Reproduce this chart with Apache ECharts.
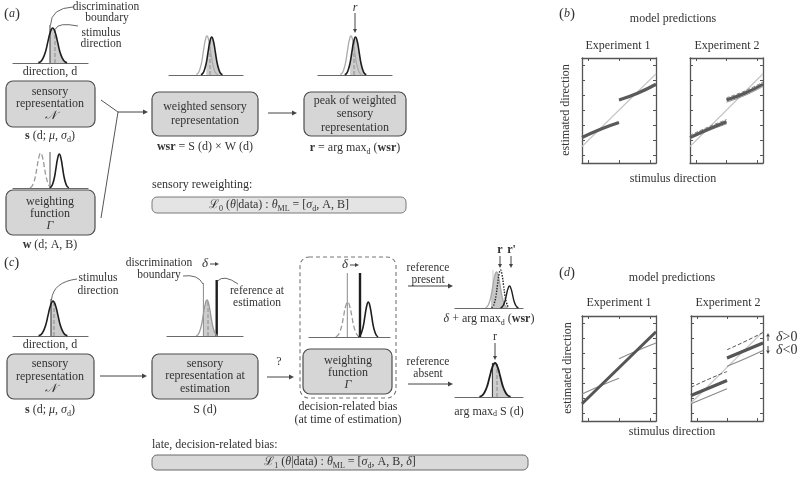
<!DOCTYPE html>
<html><head><meta charset="utf-8">
<script src="https://cdn.jsdelivr.net/npm/echarts@6/dist/echarts.min.js"></script>
<style>html,body{margin:0;padding:0;background:#fff}#c{width:798px;height:481px}</style>
</head><body><div id="c"></div>
<script>
const FONT = 'Liberation Serif';
const TXT = '#333333';

// ---------------- data ----------------
// Gaussian-like profile of the schematic tuning curves (normalised)
const PROFILE_X = [-3, -2.5, -2, -1.5, -1, -0.5, 0, 0.5, 1, 1.5, 2, 2.5, 3];
const PROFILE_Y = [0.01, 0.04, 0.14, 0.32, 0.61, 0.88, 1, 0.88, 0.61, 0.32, 0.14, 0.04, 0.01];

// schematic curves: [centre, spread, height] within their mini panel
const A_SENSORY = [39.7, 4.8, 35];
const A_WEIGHT_NEG = [27.7, 3.6, 35];
const A_WEIGHT_POS = [46.3, 3.2, 34];
const A_WSR_SENS = [38, 3.6, 39];
const A_WSR = [42.7, 3.6, 38];
const A_PEAK_SENS = [33, 3.6, 39];
const A_PEAK = [37.5, 3.6, 38];
const C_SENSORY = [40, 4.8, 35];
const C_ESTIM = [40, 3.6, 36];
const C_WEIGHT_NEG = [38.7, 4, 35];
const C_WEIGHT_POS = [59.3, 3.3, 35];
const C_PRESENT_S = [41.5, 3.7, 36];
const C_PRESENT_W = [45.5, 3, 38];
const C_PRESENT_R = [54.5, 3, 22];
const C_ABSENT = [40, 5.2, 34];

// model prediction panels
const X_TICKS = [-50, 0, 50];
const Y_TICKS = [-60, -40, -20, 0, 20, 40, 60];
const STIM_FULL = [-60, 60];
const STIM_LEFT = [-60, -30, 0];
const STIM_RIGHT = [0, 30, 60];
const B1_VERIDICAL = [-48, 49];
const B1_LEFT = [-36, -25, -16];
const B1_RIGHT = [14, 23, 35];
const B2_VERIDICAL = [-48, 49];
const B2_LEFT = [-36, -25, -15];
const B2_RIGHT = [14, 23, 35];
const B2_LEFT_UP = [-33, -22, -12];
const B2_LEFT_DOWN = [-38, -27, -18];
const B2_RIGHT_UP = [17, 26, 38];
const B2_RIGHT_DOWN = [11, 20, 32];
const D1_BIAS = [-47, 49];
const D1_LEFT = [-34, -23, -13];
const D1_RIGHT = [13, 24, 34];
const D2_VERIDICAL = [-46, 49];
const D2_LEFT = [-36, -26, -16];
const D2_RIGHT = [14, 24, 34];
const D2_LEFT_POS = [-25, -14, -4];
const D2_RIGHT_POS = [25, 36, 48];
const D2_LEFT_NEG = [-47, -37, -27];
const D2_RIGHT_NEG = [3, 13, 24];

// ---------------- build ----------------
const option = {animation: false, grid: [], xAxis: [], yAxis: [], series: [], graphic: {elements: []}};
const G = option.graphic.elements;
const zip = (xs, ys) => xs.map((x, i) => [x, ys[i]]);

function profile(c) { return PROFILE_X.map((x, i) => [c[0] + x * c[1], PROFILE_Y[i] * c[2]]); }

function mini(L, W, B, H) {
  const gi = option.grid.length;
  option.grid.push({left: L, top: B - H, width: W, height: H});
  option.xAxis.push({gridIndex: gi, type: 'value', min: 0, max: W,
    axisLine: {show: true, onZero: false, lineStyle: {color: '#6a6a6a', width: 1.2}},
    axisTick: {show: false}, axisLabel: {show: false}, splitLine: {show: false}});
  option.yAxis.push({gridIndex: gi, type: 'value', min: 0, max: H, show: false});
  const xi = option.xAxis.length - 1, yi = option.yAxis.length - 1;
  const base = {type: 'line', xAxisIndex: xi, yAxisIndex: yi, showSymbol: false, symbol: 'none', clip: false, silent: true};
  return {
    curve(c, color, width, type) {
      option.series.push(Object.assign({}, base, {data: profile(c), smooth: true, z: 4,
        lineStyle: {color, width, type: type || 'solid'}}));
    },
    shade(c, from, color) {
      option.series.push(Object.assign({}, base, {data: profile(c).slice(from), smooth: true, z: 1,
        lineStyle: {opacity: 0, width: 0}, areaStyle: {color: color || '#cdcdcd', opacity: 1}}));
    },
    vline(x, h, color, width, type) {
      option.series.push(Object.assign({}, base, {data: [[x, 0], [x, h]], z: 3,
        lineStyle: {color, width, type: type || 'solid'}}));
    }
  };
}

function plot(L, T, W, H, lines) {
  const gi = option.grid.length;
  option.grid.push({left: L, top: T, width: W, height: H});
  const common = {gridIndex: gi, type: 'value', axisLabel: {show: false}, splitLine: {show: false},
    axisLine: {show: true, onZero: false, lineStyle: {color: '#555', width: 1.3}}};
  const xt = {show: true, inside: true, length: 3, lineStyle: {color: '#555'}, customValues: X_TICKS};
  const yt = {show: true, inside: true, length: 3, lineStyle: {color: '#555'}, customValues: Y_TICKS};
  option.xAxis.push(Object.assign({}, common, {min: -60, max: 60, position: 'bottom', axisTick: xt}));
  const xi = option.xAxis.length - 1;
  option.xAxis.push(Object.assign({}, common, {min: -60, max: 60, position: 'top', axisTick: xt}));
  option.yAxis.push(Object.assign({}, common, {min: -70, max: 70, position: 'left', axisTick: yt}));
  const yi = option.yAxis.length - 1;
  option.yAxis.push(Object.assign({}, common, {min: -70, max: 70, position: 'right', axisTick: yt}));
  lines.forEach(l => option.series.push({type: 'line', xAxisIndex: xi, yAxisIndex: yi, data: zip(l.x, l.y),
    smooth: l.x.length > 2, showSymbol: false, symbol: 'none', silent: true, z: l.z || 3,
    lineStyle: {color: l.color, width: l.width, type: l.type || 'solid'}}));
}

// text helpers
const RS = (o) => Object.assign({fontFamily: FONT, fontSize: 12, fill: TXT, lineHeight: 16}, o);
const RICH = {
  n: RS({}), b: RS({fontWeight: 'bold'}), i: RS({fontStyle: 'italic'}),
  i14: {fontFamily: FONT, fontSize: 14, fill: TXT, lineHeight: 16, fontStyle: 'italic'},
  s: {fontFamily: FONT, fontSize: 8, fill: TXT, lineHeight: 10, verticalAlign: 'bottom'}
};
function T(x, y, text, o) {
  o = o || {};
  G.push({type: 'text', x, y, rotation: o.rot || 0, z: 10, style: {text, fontFamily: FONT, fontSize: o.size || 12,
    fontStyle: o.italic ? 'italic' : 'normal', fontWeight: o.bold ? 'bold' : 'normal', fill: TXT,
    align: o.align || 'center', verticalAlign: 'middle', rich: RICH}});
}
function box(x1, y1, x2, y2, o) {
  o = o || {};
  G.push({type: 'rect', z: 0, shape: {x: x1, y: y1, width: x2 - x1, height: y2 - y1, r: o.r == null ? 7 : o.r},
    style: {fill: o.fill || '#d6d6d6', stroke: o.stroke || '#4d4d4d', lineWidth: o.lw || 1.2, lineDash: o.dash || null}});
}
function seg(pts, color, w) {
  G.push({type: 'polyline', z: 5, shape: {points: pts}, style: {stroke: color || '#444', lineWidth: w || 1, fill: null}});
}
function arrow(x1, y1, x2, y2, o) {
  o = o || {};
  const hl = o.hl || 5, hw = o.hw || 2.4, col = o.color || '#444';
  const dx = x2 - x1, dy = y2 - y1, L = Math.hypot(dx, dy), ux = dx / L, uy = dy / L;
  const bx = x2 - ux * hl, by = y2 - uy * hl;
  seg([[x1, y1], [bx, by]], col, o.w || 1);
  G.push({type: 'polygon', z: 5, shape: {points: [[x2, y2], [bx - uy * hw, by + ux * hw], [bx + uy * hw, by - ux * hw]]},
    style: {fill: col, stroke: null}});
}
function leader(x1, y1, cx, cy, x2, y2) {
  G.push({type: 'bezierCurve', z: 5, shape: {x1, y1, x2, y2, cpx1: cx, cpy1: cy},
    style: {stroke: '#555', lineWidth: 0.9, fill: null}});
}
const SM = {size: 11.5};

// ---------------- (a) ----------------
T(4, 14, '({i|a})', {align: 'left', size: 15});
let m = mini(13, 75, 63, 45);
m.shade(A_SENSORY, 5);
m.curve(A_SENSORY, '#1e1e1e', 1.6);
m.vline(37, 38, '#333', 1);
m.vline(42, 35, '#8a8a8a', 1, 'dashed');
leader(50.5, 25, 51, 8, 73, 7);
T(106, 7, 'discrimination', SM); T(107, 18, 'boundary', SM);
leader(55.5, 29, 58, 22, 78, 26);
T(101, 33, 'stimulus', SM); T(101, 44, 'direction', SM);
T(50, 72, 'direction, d');
box(6, 81, 95, 127);
T(50, 92, 'sensory'); T(50, 104, 'representation'); T(50, 116, '𝒩', {italic: true});
T(50, 136, '{b|s} (d; {i|μ}, {i|σ}{s|d})');

m = mini(13, 75, 188, 45);
m.curve(A_WEIGHT_NEG, '#9a9a9a', 1.3, 'dashed');
m.curve(A_WEIGHT_POS, '#1e1e1e', 1.6);
m.vline(37, 36, '#555', 1);
box(6, 190, 95, 235);
T(50, 202, 'weighting'); T(50, 214, 'function'); T(50, 226, 'Γ', {italic: true});
T(50, 245, '{b|w} (d; A, B)');

seg([[101, 100], [118, 112], [101, 218]], '#555', 1);
arrow(118, 112, 148, 112);

m = mini(169, 74, 75, 45);
m.shade(A_WSR, 3);
m.curve(A_WSR_SENS, '#ababab', 1.3);
m.curve(A_WSR, '#1e1e1e', 1.6);
m.vline(41, 36, '#8a8a8a', 1, 'dashed');
box(152, 92, 258, 136);
T(205, 107, 'weighted sensory'); T(205, 121, 'representation');
T(205, 147, '{b|wsr} = S (d) × W (d)');
arrow(268, 113, 297, 113);

m = mini(318, 74, 75, 45);
m.shade(A_PEAK, 3);
m.curve(A_PEAK_SENS, '#ababab', 1.3);
m.curve(A_PEAK, '#1e1e1e', 1.6);
m.vline(36, 36, '#8a8a8a', 1, 'dashed');
T(355, 8, 'r', {italic: true});
arrow(355, 13, 355, 33, {hl: 4, hw: 2});
box(304, 92, 406, 136);
T(355, 101, 'peak of weighted'); T(355, 114, 'sensory'); T(355, 128, 'representation');
T(355, 148, '{b|r} = arg max{s|d} ({b|wsr})');

T(152, 185, 'sensory reweighting:', {align: 'left'});
box(152, 197, 406, 213, {fill: '#e4e4e4', stroke: '#7a7a7a', lw: 1, r: 5});
T(279, 205, 'ℒ{s|0} ({i|θ}|data) : {i|θ}{s|ML} = [{i|σ}{s|d}, A, B]');

// ---------------- (b) ----------------
T(559, 14, '({i|b})', {align: 'left', size: 15});
T(673, 19, 'model predictions');
T(618, 46, 'Experiment 1'); T(727, 46, 'Experiment 2');
T(566, 110, 'estimated direction', {rot: Math.PI / 2});
T(673, 179, 'stimulus direction');
plot(582, 58, 74, 105, [
  {x: STIM_FULL, y: B1_VERIDICAL, color: '#c4c4c4', width: 1.1, z: 2},
  {x: STIM_LEFT, y: B1_LEFT, color: '#5a5a5a', width: 3.2},
  {x: STIM_RIGHT, y: B1_RIGHT, color: '#5a5a5a', width: 3.2}
]);
plot(690, 58, 73, 105, [
  {x: STIM_FULL, y: B2_VERIDICAL, color: '#c4c4c4', width: 1.1, z: 2},
  {x: STIM_LEFT, y: B2_LEFT_UP, color: '#777', width: 0.9, type: 'dashed'},
  {x: STIM_LEFT, y: B2_LEFT_DOWN, color: '#888', width: 0.9},
  {x: STIM_RIGHT, y: B2_RIGHT_UP, color: '#777', width: 0.9, type: 'dashed'},
  {x: STIM_RIGHT, y: B2_RIGHT_DOWN, color: '#888', width: 0.9},
  {x: STIM_LEFT, y: B2_LEFT, color: '#5a5a5a', width: 3},
  {x: STIM_RIGHT, y: B2_RIGHT, color: '#5a5a5a', width: 3}
]);

// ---------------- (c) ----------------
T(4, 263, '({i|c})', {align: 'left', size: 15});
m = mini(13, 75, 336, 45);
m.shade(C_SENSORY, 5);
m.curve(C_SENSORY, '#1e1e1e', 1.6);
m.vline(38, 37, '#333', 1);
m.vline(41, 35, '#8a8a8a', 1, 'dashed');
leader(51.5, 300, 53, 282, 77, 279);
T(98, 278, 'stimulus', SM); T(98, 291, 'direction', SM);
T(50, 345, 'direction, d');
box(7, 354, 94, 399);
T(50, 364, 'sensory'); T(50, 377, 'representation'); T(50, 389, '𝒩', {italic: true});
T(50, 410, '{b|s} (d; {i|μ}, {i|σ}{s|d})');
arrow(100, 376, 147, 376);

m = mini(167, 76, 336, 60);
m.shade(C_ESTIM, 4);
m.curve(C_ESTIM, '#9a9a9a', 1.3);
m.vline(36.4, 53, '#8a8a8a', 1);
m.vline(41, 35, '#8a8a8a', 1, 'dashed');
m.vline(49.7, 56, '#1e1e1e', 2.4);
T(159, 263, 'discrimination', SM); T(159, 275, 'boundary', SM);
leader(183, 276, 198, 274, 203, 284);
T(205, 264, 'δ', {italic: true, size: 13});
arrow(210, 264, 219, 264, {hl: 4, hw: 2});
leader(217.5, 281, 224, 274, 238, 284);
T(257, 291, 'reference at', SM); T(257, 303, 'estimation', SM);
box(152, 354, 258, 399);
T(205, 364, 'sensory'); T(205, 376, 'representation at'); T(205, 389, 'estimation');
T(205, 410, 'S (d)');

arrow(267, 377, 294, 377);
T(279, 362, '?');
box(300, 257, 396, 398, {fill: 'rgba(0,0,0,0)', stroke: '#777', lw: 1.1, dash: [4, 3], r: 9});
m = mini(309, 81, 337, 68);
m.curve(C_WEIGHT_NEG, '#9a9a9a', 1.3, 'dashed');
m.curve(C_WEIGHT_POS, '#1e1e1e', 1.6);
m.vline(38.3, 64, '#8a8a8a', 1);
m.vline(51, 64, '#1e1e1e', 2.4);
T(345, 265, 'δ', {italic: true, size: 13});
arrow(350, 265, 359, 265, {hl: 4, hw: 2});
box(303, 349, 392, 394);
T(348, 361, 'weighting'); T(348, 373, 'function'); T(348, 385, 'Γ', {italic: true});
T(348, 407, 'decision-related bias'); T(348, 420, '(at time of estimation)');

T(428, 268, 'reference', SM); T(428, 280, 'present', SM);
arrow(408, 286, 453, 286);
m = mini(455, 68, 308, 45);
m.shade(C_PRESENT_S, 3, '#c8c8c8');
m.curve(C_PRESENT_S, '#a8a8a8', 1.3);
m.curve(C_PRESENT_W, '#1e1e1e', 1.4, 'dotted');
m.curve(C_PRESENT_R, '#1e1e1e', 1.4);
m.vline(38, 38, '#c0c0c0', 0.8);
T(500, 250, 'r', {bold: true}); T(511.5, 250, "r'", {bold: true});
arrow(500, 256, 500, 268, {hl: 4, hw: 2});
arrow(511, 256, 511, 268, {hl: 4, hw: 2});
T(489, 319, '{i|δ} + arg max{s|d} ({b|wsr})');

T(428, 362, 'reference', SM); T(428, 374, 'absent', SM);
arrow(408, 384, 453, 384);
m = mini(455, 68, 397, 45);
m.shade(C_ABSENT, 5);
m.curve(C_ABSENT, '#1e1e1e', 1.8);
m.vline(37.4, 34, '#333', 1);
m.vline(42, 33, '#8a8a8a', 1, 'dashed');
T(495, 337, 'r');
arrow(495, 343, 495, 360, {hl: 4, hw: 2});
T(489, 412, 'arg max{s|d} S (d)');

T(152, 445, 'late, decision-related bias:', {align: 'left'});
box(152, 455, 528, 470, {fill: '#d9d9d9', stroke: '#6a6a6a', lw: 1, r: 5});
T(340, 462, 'ℒ{s|1} ({i|θ}|data) : {i|θ}{s|ML} = [{i|σ}{s|d}, A, B, {i|δ}]');

// ---------------- (d) ----------------
T(559, 273, '({i|d})', {align: 'left', size: 15});
T(672, 278, 'model predictions');
T(619, 303, 'Experiment 1'); T(728, 303, 'Experiment 2');
T(568, 368, 'estimated direction', {rot: Math.PI / 2});
T(672, 432, 'stimulus direction');
plot(582, 316, 74, 105, [
  {x: STIM_LEFT, y: D1_LEFT, color: '#8a8a8a', width: 1.2},
  {x: STIM_RIGHT, y: D1_RIGHT, color: '#8a8a8a', width: 1.2},
  {x: STIM_FULL, y: D1_BIAS, color: '#555', width: 3}
]);
plot(691, 316, 72, 105, [
  {x: STIM_FULL, y: D2_VERIDICAL, color: '#c8c8c8', width: 1.2, z: 2},
  {x: STIM_LEFT, y: D2_LEFT_POS, color: '#555', width: 1, type: 'dashed'},
  {x: STIM_RIGHT, y: D2_RIGHT_POS, color: '#555', width: 1, type: 'dashed'},
  {x: STIM_LEFT, y: D2_LEFT_NEG, color: '#8a8a8a', width: 1.2},
  {x: STIM_RIGHT, y: D2_RIGHT_NEG, color: '#8a8a8a', width: 1.2},
  {x: STIM_LEFT, y: D2_LEFT, color: '#555', width: 3.2},
  {x: STIM_RIGHT, y: D2_RIGHT, color: '#555', width: 3.2}
]);
arrow(768, 341, 768, 333, {hl: 3.5, hw: 1.8});
arrow(768, 346, 768, 354, {hl: 3.5, hw: 1.8});
T(776, 337, '{i14|δ}>0', {align: 'left', size: 14});
T(776, 350, '{i14|δ}<0', {align: 'left', size: 14});

const chart = echarts.init(document.getElementById('c'), null, {renderer: 'canvas'});
chart.setOption(option);
</script></body></html>
